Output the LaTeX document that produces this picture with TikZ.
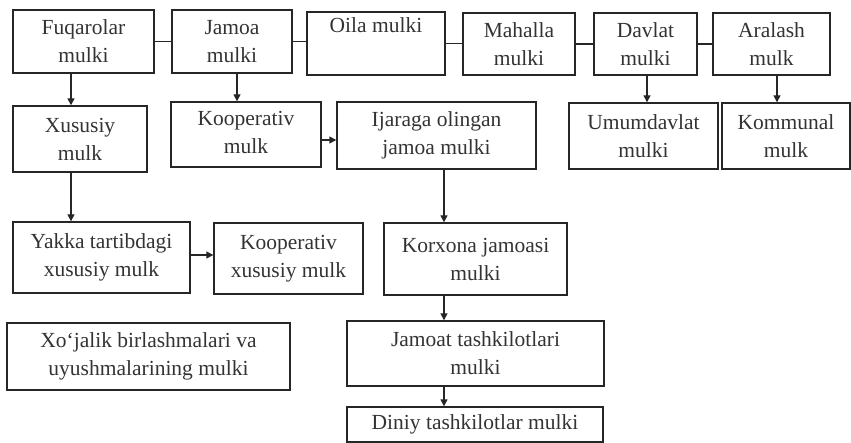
\documentclass[tikz,border=0pt]{standalone}
\usepackage{fontspec}
\setmainfont{Liberation Serif}
\usetikzlibrary{arrows.meta}
\begin{document}
\begin{tikzpicture}[x=1pt,y=-1pt,
  box/.style={draw=black!85,line width=1.4pt,rectangle,inner sep=0pt,align=center,
    text=black!80,font=\fontsize{21.5}{28}\selectfont},
  link/.style={draw=black!85,line width=1.4pt},
  arr/.style={draw=black!85,line width=1.4pt,-{Triangle[length=7pt,width=7pt]}}]
\useasboundingbox (0,0) rectangle (851,443);
% top row
\node[box,minimum width=141pt,minimum height=63pt] (fuq) at (83.5,41.5) {Fuqarolar\\mulki};
\node[box,minimum width=120pt,minimum height=63pt] (jam) at (232,41.5) {Jamoa\\mulki};
\node[box,minimum width=138pt,minimum height=63pt] (oil) at (376,43.5) {Oila mulki\\\strut};
\node[box,minimum width=112pt,minimum height=62pt] (mah) at (519,44) {Mahalla\\mulki};
\node[box,minimum width=103pt,minimum height=62pt] (dav) at (645.5,44) {Davlat\\mulki};
\node[box,minimum width=117pt,minimum height=62pt] (ara) at (771.5,44) {Aralash\\mulk};
% second row
\node[box,minimum width=134pt,minimum height=66pt] (xus) at (80,139) {Xususiy\\mulk};
\node[box,minimum width=150pt,minimum height=65pt] (koop) at (246,134.5) {Kooperativ\\mulk\vphantom{g}};
\node[box,minimum width=199pt,minimum height=67pt] (ija) at (436.5,135.5) {Ijaraga olingan\\jamoa mulki};
\node[box,minimum width=149pt,minimum height=66pt] (umu) at (643.5,136) {Umumdavlat\\mulki};
\node[box,minimum width=128pt,minimum height=66pt] (kom) at (786,136) {Kommunal\\mulk};
% third row
\node[box,minimum width=177pt,minimum height=71pt] (yak) at (101.5,257.5) {Yakka tartibdagi\\xususiy mulk};
\node[box,minimum width=149pt,minimum height=71pt] (kx) at (288.5,258.5) {Kooperativ\\xususiy mulk};
\node[box,minimum width=183pt,minimum height=72pt] (kor) at (475.5,259) {Korxona jamoasi\\mulki};
% fourth row
\node[box,minimum width=283pt,minimum height=67pt] (xoj) at (148.5,356.5) {Xo‘jalik birlashmalari va\\uyushmalarining mulki};
\node[box,minimum width=257pt,minimum height=65pt] (jt) at (475.5,353.5) {Jamoat tashkilotlari\\mulki};
\node[box,minimum width=256pt,minimum height=35pt] (din) at (475,424.5) {Diniy tashkilotlar mulki};
% helper coordinates
\coordinate (c71) at (71,0);
\coordinate (c237) at (237,0);
\coordinate (c647) at (647,0);
\coordinate (c777) at (777,0);
\coordinate (c444) at (444,0);
\coordinate (r140) at (0,140);
\coordinate (r255) at (0,255);
% horizontal links of the top row
\draw[link] (fuq.east) -- (fuq.east -| jam.west);
\draw[link] (jam.east) -- (jam.east -| oil.west);
\draw[link] (oil.east) -- (oil.east -| mah.west);
\draw[link] (mah.east) -- (mah.east -| dav.west);
\draw[link] (dav.east) -- (dav.east -| ara.west);
% arrows
\draw[arr] (fuq.south -| c71) -- (xus.north -| c71);
\draw[arr] (jam.south -| c237) -- (koop.north -| c237);
\draw[arr] (koop.east |- r140) -- (ija.west |- r140);
\draw[arr] (dav.south -| c647) -- (umu.north -| c647);
\draw[arr] (ara.south -| c777) -- (kom.north -| c777);
\draw[arr] (xus.south -| c71) -- (yak.north -| c71);
\draw[arr] (yak.east |- r255) -- (kx.west |- r255);
\draw[arr] (ija.south -| c444) -- (kor.north -| c444);
\draw[arr] (kor.south -| c444) -- (jt.north -| c444);
\draw[arr] (jt.south -| c444) -- (din.north -| c444);
\end{tikzpicture}
\end{document}
